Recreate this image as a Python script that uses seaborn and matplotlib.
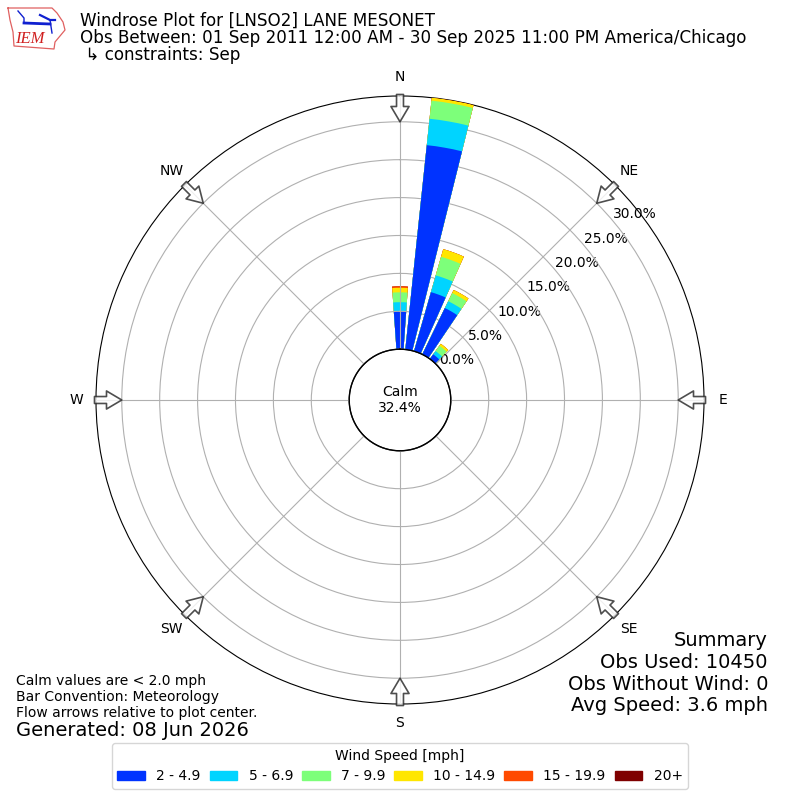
import numpy as np
import pandas as pd
import matplotlib
matplotlib.use("Agg")
import matplotlib.pyplot as plt
from matplotlib.patches import Patch
import seaborn as sns

# direcoes com dados (graus) e frequencia (%) por faixa de vento
direcoes = [0, 10, 20, 30, 40]
faixas = ["2 - 4.9", "5 - 6.9", "7 - 9.9", "10 - 14.9", "15 - 19.9", "20+"]
f_2_5 = [5.0, 27.1, 8.1, 6.8, 0.75]
f_5_7 = [1.2, 3.5, 2.3, 1.0, 0.53]
f_7_10 = [1.3, 2.4, 2.55, 1.2, 0.87]
f_10_15 = [0.6, 0.4, 1.05, 0.45, 0.31]
f_15_20 = [0.2, 0.0, 0.0, 0.0, 0.0]
f_20 = [0.0, 0.0, 0.0, 0.0, 0.0]
calm = 32.4
cores = ["#0033ff", "#00d4ff", "#7dff7a", "#ffe600", "#ff4a00", "#7f0000"]
rticks = [0, 5, 10, 15, 20, 25, 30]
rmax = 33.4
pontos = ["N", "NE", "E", "SE", "S", "SW", "W", "NW"]

df = pd.DataFrame(
    [f_2_5, f_5_7, f_7_10, f_10_15, f_15_20, f_20], index=faixas, columns=direcoes
).T
acumulado = df.cumsum(axis=1)
acumulado["theta"] = np.radians(direcoes)

fig = plt.figure(figsize=(8, 8), dpi=100)
ax = fig.add_axes([0.12, 0.12, 0.76, 0.76], projection="polar")
ax.set_theta_zero_location("N")
ax.set_theta_direction(-1)

# barras empilhadas: desenha do total para a primeira faixa
# a barra do norte fica por baixo da grade, as outras por cima
for faixa, cor in list(zip(faixas, cores))[::-1]:
    sns.barplot(data=acumulado.iloc[:1], x="theta", y=faixa, color=cor, saturation=1,
                native_scale=True, width=np.radians(8), ax=ax, zorder=1,
                linewidth=0, edgecolor="none")
    sns.barplot(data=acumulado.iloc[1:], x="theta", y=faixa, color=cor, saturation=1,
                native_scale=True, width=0.8, ax=ax, zorder=3,
                linewidth=0, edgecolor="none")

ax.set_xlabel("")
ax.set_ylabel("")
ax.set_ylim(0, rmax)
ax.set_rorigin(-6.7)
ax.set_xticks(np.radians(np.arange(0, 360, 45)))
ax.set_xticklabels(pontos)
ax.tick_params(axis="x", pad=3.5, labelsize=10)
ax.set_yticks(rticks)
ax.set_yticklabels([f"{r:.1f}%" for r in rticks], fontsize=10, zorder=5)
ax.set_rlabel_position(50)
ax.grid(True, color="#b0b0b0", linewidth=0.8)
ax.set_axisbelow(False)

# circulo central
tt = np.linspace(0, 2 * np.pi, 361)
ax.plot(tt, np.zeros_like(tt), color="black", linewidth=1, zorder=4, clip_on=False)
ax.text(0.5, 0.5, f"Calm\n{calm}%", transform=ax.transAxes, ha="center", va="center", fontsize=10)

# setas de direcao
for ang in np.arange(0, 360, 45):
    ax.annotate("", xy=(np.radians(ang), 30.0), xytext=(np.radians(ang), 33.6),
                annotation_clip=False, zorder=6,
                arrowprops=dict(facecolor="white", edgecolor="#222222", alpha=0.8,
                                width=5, headwidth=13, headlength=11, linewidth=1.2, shrink=0))

# textos
fig.text(80 / 800, 1 - 26 / 800, "Windrose Plot for [LNSO2] LANE MESONET", fontsize=12.05)
fig.text(80 / 800, 1 - 43 / 800, "Obs Between: 01 Sep 2011 12:00 AM - 30 Sep 2025 11:00 PM America/Chicago", fontsize=12.05)
fig.text(80 / 800, 1 - 60 / 800, " ↳ constraints: Sep", fontsize=12.05)

fig.text(768 / 800, 1 - 646.5 / 800, "Summary", fontsize=14, ha="right")
fig.text(768 / 800, 1 - 668 / 800, "Obs Used: 10450", fontsize=14, ha="right")
fig.text(768 / 800, 1 - 689.5 / 800, "Obs Without Wind: 0", fontsize=14, ha="right")
fig.text(768 / 800, 1 - 711 / 800, "Avg Speed: 3.6 mph", fontsize=14, ha="right")

fig.text(16 / 800, 1 - 685 / 800, "Calm values are < 2.0 mph", fontsize=10)
fig.text(16 / 800, 1 - 701 / 800, "Bar Convention: Meteorology", fontsize=10)
fig.text(16 / 800, 1 - 717 / 800, "Flow arrows relative to plot center.", fontsize=10)
fig.text(16 / 800, 1 - 736 / 800, "Generated: 08 Jun 2026", fontsize=14)

# legenda
alcas = [Patch(color=c, label=f) for c, f in zip(cores, faixas)]
fig.legend(handles=alcas, title="Wind Speed [mph]", ncol=6, loc="center",
           bbox_to_anchor=(0.5, 1 - 766 / 800), fontsize=10, title_fontsize=10,
           columnspacing=0.65)

# logo aproximado do IEM
logo = fig.add_axes([5 / 800, 1 - 50 / 800, 62 / 800, 45 / 800])
logo.set_xlim(5, 67)
logo.set_ylim(50, 5)
logo.axis("off")
contorno_x = [8, 52, 57, 63, 65, 60, 55, 54, 14, 13, 10, 8]
contorno_y = [8, 8, 13, 22, 30, 36, 42, 49, 46, 32, 20, 8]
logo.plot(contorno_x, contorno_y, color="#e06060", linewidth=0.9)
logo.plot([24, 50], [23, 24], color="#1020d0", linewidth=2)
logo.plot([18, 24, 24], [11, 18, 23], color="#1020d0", linewidth=1)
logo.plot([40, 50, 55], [15, 20, 20], color="#1020d0", linewidth=1.6)
logo.plot([50, 52], [20, 33], color="#1020d0", linewidth=1)
logo.text(30, 39, "IEM", color="#d02020", family="Liberation Serif", style="italic", fontsize=12, ha="center", va="center")

fig.savefig("out.png", dpi=100)
